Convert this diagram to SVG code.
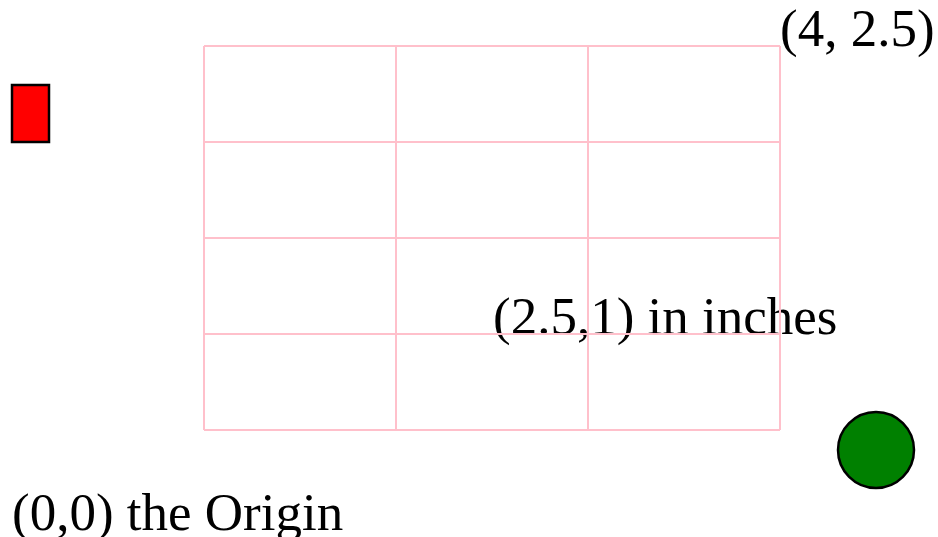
<svg xmlns="http://www.w3.org/2000/svg" width="938" height="537" viewBox="0 0 938 537">
<style>
.grid{stroke:#ffc0cb;stroke-width:2;fill:none}
.lbl{font-family:"Liberation Serif","Times New Roman",serif;font-size:53px;fill:#000}
</style>
<rect width="938" height="537" fill="#fff"/>
<g id="labels">
<text class="lbl" x="780" y="46">(4, 2.5)</text>
<text class="lbl" x="493" y="334">(2.5,1) in inches</text>
<text class="lbl" x="12" y="530">(0,0) the Origin</text>
</g>
<g id="grid" class="grid">
<path d="M204 46H780M204 142H780M204 238H780M204 334H780M204 430H780M204 46V430M396 46V430M588 46V430M780 46V430"/>
</g>
<g id="red-rect"><rect x="12" y="85" width="37" height="57" fill="#f00" stroke="#000" stroke-width="2.5"/></g>
<g id="green-circle"><circle cx="876" cy="450" r="38" fill="#008000" stroke="#000" stroke-width="2.5"/></g>
</svg>
